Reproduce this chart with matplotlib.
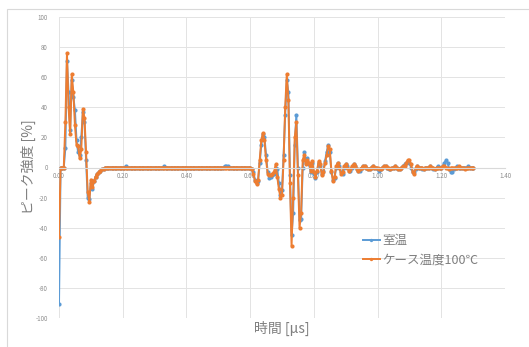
import numpy as np
import matplotlib
matplotlib.use('Agg')
import matplotlib.pyplot as plt
from matplotlib.patches import Rectangle

plt.rcParams['font.family'] = ['Noto Sans CJK JP', 'DejaVu Sans']

# sample step [us]
dt = 0.005

# 室温 (room temperature)
room = [
    -91, 0, 0, 0, 13, 71, 50, 25, 58, 47, 38, 18, 10, 8, 20, 37, 30, 5, -20, -21,
    -10, -14, -9, -6, -4, -3, -2, -1, -1, 0, 0, 0, 0, 0, 0, 0, 0, 0, 0, 0,
    0, 0, 1, 0, 0, 0, 0, 0, 0, 0, 0, 0, 0, 0, 0, 0, 0, 0, 0, 0,
    0, 0, 0, 0, 0, 0, 1, 0, 0, 0, 0, 0, 0, 0, 0, 0, 0, 0, 0, 0,
    0, 0, 0, 0, 0, 0, 0, 0, 0, 0, 0, 0, 0, 0, 0, 0, 0, 0, 0, 0,
    0, 0, 0, 0, 1, 1, 1, 0, 0, 0, 0, 0, 0, 0, 0, 0, 0, 0, 0, 0,
    0, -1, -3, -8, -10, -9, 3, 15, 22, 20, 8, -3, -7, -6, -5, -4, 0, -1, -10, -18,
    -15, 8, 35, 58, 50, -5, -45, -30, 15, 35, 0, -35, -34, 0, 10, 3, 6, 2, -3, 3,
    -4, -7, -3, 3, 1, -4, -2, 4, 10, 15, 10, -3, -8, -7, 0, 3, 1, -3, -4, 0,
    2, 1, -2, -2, 0, 2, 1, -1, -2, -2, 0, 1, 1, 0, -1, -1, 0, 1, 0, 0,
    -1, -2, -1, 0, 1, 1, 0, -1, -1, 0, 0, 1, 0, -1, -1, 0, 1, 2, 3, 4,
    3, 0, -3, -3, -1, 1, 0, 0, -1, -1, 0, 0, 0, 1, 0, -1, -1, 0, 1, 0,
    0, 1, 3, 5, 3, -1, -3, -3, -1, 0, 1, 0, 0, 0, 0, 0, 0, 1, 0, 0,
    0,
]

# ケース温度100℃ (case 100 C)
hot = [
    -46, 0, 0, 0, 30, 76, 40, 22, 62, 50, 28, 15, 14, 6, 12, 39, 33, 10, -16, -23,
    -8, -13, -9, -6, -4, -3, -2, -1, -1, 0, 0, 0, 0, 0, 0, 0, 0, 0, 0, 0,
    0, 0, 0, 0, 0, 0, 0, 0, 0, 0, 0, 0, 0, 0, 0, 0, 0, 0, 0, 0,
    0, 0, 0, 0, 0, 0, 0, 0, 0, 0, 0, 0, 0, 0, 0, 0, 0, 0, 0, 0,
    0, 0, 0, 0, 0, 0, 0, 0, 0, 0, 0, 0, 0, 0, 0, 0, 0, 0, 0, 0,
    0, 0, 0, 0, 0, 0, 0, 0, 0, 0, 0, 0, 0, 0, 0, 0, 0, 0, 0, 0,
    0, -1, -4, -9, -11, -8, 5, 18, 23, 18, 5, -4, -5, -5, -4, -3, 2, -6, -14, -20,
    -18, 5, 40, 62, 45, -10, -52, -20, 20, 30, -5, -40, -30, 5, 8, 2, 5, 3, -2, 4,
    -3, -6, -2, 4, 2, -5, -3, 3, 8, 14, 12, -2, -9, -6, 1, 3, 0, -4, -3, 1,
    2, 0, -2, -1, 1, 2, 1, -1, -2, -1, 0, 1, 1, 0, -1, -1, 0, 1, 0, 0,
    0, -1, -1, 0, 1, 1, 0, 0, -1, 0, 0, 1, 0, -1, -1, 0, 1, 1, 3, 5,
    5, 2, -3, -4, 0, 1, 0, 0, 0, -1, 0, 0, 0, 1, 0, 0, -1, 0, 0, 0,
    0, 1, 1, 0, 0, -1, 0, 0, 0, 0, 0, 1, 0, 0, 0, -1, 0, 0, 0, 0,
    0,
]

labels = ['室温', 'ケース温度100℃']
x_ticks = [0.0, 0.2, 0.4, 0.6, 0.8, 1.0, 1.2, 1.4]
y_ticks = [-100, -80, -60, -40, -20, 0, 20, 40, 60, 80, 100]

t = np.arange(len(room)) * dt

fig = plt.figure(figsize=(5.29, 3.47), dpi=100)
# outer chart border (Excel-like)
fig.patches.append(Rectangle((7 / 529, -0.1), 1.1, 1 - 9 / 347 + 0.1,
                             transform=fig.transFigure, fill=False,
                             edgecolor='#d9d9d9', linewidth=0.8))

ax = fig.add_axes([59 / 529, 1 - 318 / 347, 446 / 529, 301 / 347])

blue = '#5b9bd5'
orange = '#ed7d31'
ax.plot(t, room, color=blue, lw=1.4, marker='o', ms=3, mew=0, label=labels[0])
ax.plot(t, hot, color=orange, lw=1.4, marker='o', ms=3, mew=0, label=labels[1])

ax.set_xlim(0, 1.4)
ax.set_ylim(-100, 100)
ax.set_xticks(x_ticks)
ax.set_yticks(y_ticks)
ax.set_xticklabels(['%.2f' % v for v in x_ticks])
ax.set_yticklabels([str(v) for v in y_ticks])
ax.tick_params(length=0, labelsize=4.5, labelcolor='#8c8c8c')
ax.tick_params(axis='x', pad=3)
ax.tick_params(axis='y', pad=8)
ax.grid(True, color='#e3e3e3', lw=0.7)
ax.set_axisbelow(True)
for s in ['top', 'right', 'left']:
    ax.spines[s].set_visible(False)
ax.spines['bottom'].set_position(('data', 0))
ax.spines['bottom'].set_color('#d9d9d9')

fig.text(28 / 529, 1 - 167 / 347, 'ピーク強度 [%]', rotation=90, ha='center',
         va='center', fontsize=10, color='#7f7f7f')
fig.text(282 / 529, 1 - 328 / 347, '時間 [μs]', ha='center', va='center',
         fontsize=10, color='#7f7f7f')

ax.legend(loc='center left', bbox_to_anchor=(357 / 529, 1 - 250 / 347),
          bbox_transform=fig.transFigure, frameon=False, fontsize=9,
          handlelength=1.3, handletextpad=0.2, labelspacing=0.5,
          borderpad=0, labelcolor='#7f7f7f', markerscale=0.8)

fig.savefig('out.png', dpi=100)
